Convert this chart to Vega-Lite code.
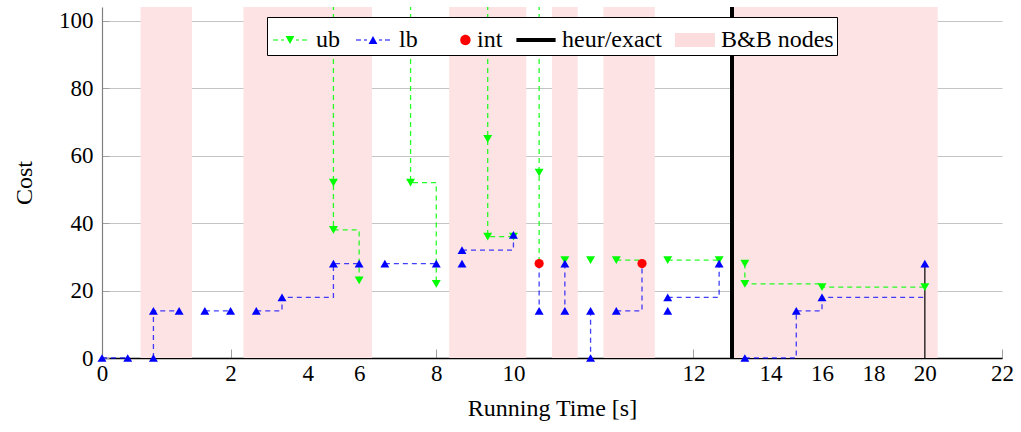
{
  "$schema": "https://vega.github.io/schema/vega-lite/v6.json",
  "width": 900,
  "height": 351,
  "autosize": {"type": "none"},
  "padding": {"left": 102, "top": 7, "right": 19, "bottom": 74},
  "background": "white",
  "config": {
    "view": {"stroke": null},
    "font": "Liberation Serif, Times New Roman, Times, serif",
    "axis": {
      "labelFont": "Liberation Serif, Times New Roman, Times, serif",
      "labelFontSize": 23,
      "labelColor": "black",
      "titleFont": "Liberation Serif, Times New Roman, Times, serif",
      "titleFontSize": 24,
      "titleFontWeight": "normal",
      "titleColor": "black"
    }
  },
  "encoding": {
    "x": {
      "type": "quantitative",
      "scale": {"domain": [0, 35], "nice": false, "zero": false},
      "axis": {
        "title": "Running Time [s]",
        "values": [0, 5, 8, 10, 13, 16, 23, 26, 28, 30, 32, 35],
        "labelExpr": "['0','2','4','6','8','10','12','14','16','18','20','22'][indexof([0,5,8,10,13,16,23,26,28,30,32,35], datum.value)]",
        "domainColor": "black",
        "domainWidth": 1.3,
        "tickColor": "#a0a0a0",
        "tickSize": -9,
        "tickWidth": 1,
        "labelPadding": 13,
        "labelFlush": false,
        "labelOverlap": false,
        "grid": false,
        "titlePadding": 11
      }
    },
    "y": {
      "type": "quantitative",
      "scale": {"domain": [0, 104.1], "nice": false},
      "axis": {
        "title": "Cost",
        "values": [0, 20, 40, 60, 80, 100],
        "domainColor": "#808080",
        "domainWidth": 1.2,
        "tickColor": "#a0a0a0",
        "tickSize": -7,
        "labelPadding": 16,
        "grid": true,
        "gridColor": "#c4c4c4",
        "gridWidth": 1,
        "titlePadding": 22
      }
    }
  },
  "layer": [
    {
      "data": {"values": [
        {"a": 1.5, "b": 3.5}, {"a": 5.5, "b": 10.5}, {"a": 13.5, "b": 16.5},
        {"a": 17.5, "b": 18.5}, {"a": 19.5, "b": 21.5}, {"a": 24.5, "b": 32.5}
      ]},
      "mark": {"type": "rect", "color": "#fde3e4"},
      "encoding": {"x": {"field": "a"}, "x2": {"field": "b"}}
    },
    {
      "data": {"values": [
        {"s": "A", "o": 1, "u": 9, "v": 110}, {"s": "A", "o": 2, "u": 9, "v": 52}, {"s": "A", "o": 3, "u": 9, "v": 38}, {"s": "A", "o": 4, "u": 10, "v": 38}, {"s": "A", "o": 5, "u": 10, "v": 23},
        {"s": "B", "o": 1, "u": 12, "v": 110}, {"s": "B", "o": 2, "u": 12, "v": 52}, {"s": "B", "o": 3, "u": 13, "v": 52}, {"s": "B", "o": 4, "u": 13, "v": 22},
        {"s": "C", "o": 1, "u": 15, "v": 110}, {"s": "C", "o": 2, "u": 15, "v": 65}, {"s": "C", "o": 3, "u": 15, "v": 36}, {"s": "C", "o": 4, "u": 16, "v": 36},
        {"s": "D", "o": 1, "u": 17, "v": 110}, {"s": "D", "o": 2, "u": 17, "v": 55}, {"s": "D", "o": 3, "u": 17, "v": 28},
        {"s": "E", "o": 1, "u": 20, "v": 29}, {"s": "E", "o": 2, "u": 21, "v": 29},
        {"s": "F", "o": 1, "u": 22, "v": 29}, {"s": "F", "o": 2, "u": 24, "v": 29},
        {"s": "G", "o": 1, "u": 25, "v": 28}, {"s": "G", "o": 2, "u": 25, "v": 22}, {"s": "G", "o": 3, "u": 28, "v": 22}, {"s": "G", "o": 4, "u": 28, "v": 21}, {"s": "G", "o": 5, "u": 32, "v": 21}
      ]},
      "mark": {"type": "line", "color": "#00ff00", "strokeWidth": 1.3, "strokeDash": [5, 4], "opacity": 0.85, "clip": true},
      "encoding": {"x": {"field": "u"}, "y": {"field": "v"}, "detail": {"field": "s"}, "order": {"field": "o"}}
    },
    {
      "data": {"values": [
        {"s": "1", "o": 1, "u": 0, "v": 0}, {"s": "1", "o": 2, "u": 1, "v": 0},
        {"s": "2", "o": 1, "u": 2, "v": 0}, {"s": "2", "o": 2, "u": 2, "v": 14}, {"s": "2", "o": 3, "u": 3, "v": 14},
        {"s": "3", "o": 1, "u": 4, "v": 14}, {"s": "3", "o": 2, "u": 5, "v": 14},
        {"s": "4", "o": 1, "u": 6, "v": 14}, {"s": "4", "o": 2, "u": 7, "v": 14}, {"s": "4", "o": 3, "u": 7, "v": 18}, {"s": "4", "o": 4, "u": 9, "v": 18}, {"s": "4", "o": 5, "u": 9, "v": 28}, {"s": "4", "o": 6, "u": 10, "v": 28},
        {"s": "5", "o": 1, "u": 11, "v": 28}, {"s": "5", "o": 2, "u": 13, "v": 28},
        {"s": "6", "o": 1, "u": 14, "v": 32}, {"s": "6", "o": 2, "u": 16, "v": 32}, {"s": "6", "o": 3, "u": 16, "v": 36.5},
        {"s": "7", "o": 1, "u": 17, "v": 28}, {"s": "7", "o": 2, "u": 17, "v": 14},
        {"s": "8", "o": 1, "u": 18, "v": 28}, {"s": "8", "o": 2, "u": 18, "v": 14},
        {"s": "9", "o": 1, "u": 19, "v": 14}, {"s": "9", "o": 2, "u": 19, "v": 0},
        {"s": "10", "o": 1, "u": 20, "v": 14}, {"s": "10", "o": 2, "u": 21, "v": 14}, {"s": "10", "o": 3, "u": 21, "v": 28},
        {"s": "11", "o": 1, "u": 22, "v": 18}, {"s": "11", "o": 2, "u": 24, "v": 18}, {"s": "11", "o": 3, "u": 24, "v": 28},
        {"s": "12", "o": 1, "u": 25, "v": 0}, {"s": "12", "o": 2, "u": 27, "v": 0}, {"s": "12", "o": 3, "u": 27, "v": 14}, {"s": "12", "o": 4, "u": 28, "v": 14}, {"s": "12", "o": 5, "u": 28, "v": 18}, {"s": "12", "o": 6, "u": 32, "v": 18}
      ]},
      "mark": {"type": "line", "color": "#0000ff", "strokeWidth": 1.3, "strokeDash": [5, 4], "opacity": 0.75},
      "encoding": {"x": {"field": "u"}, "y": {"field": "v"}, "detail": {"field": "s"}, "order": {"field": "o"}}
    },
    {
      "data": {"values": [{"u": 32, "v0": 0, "v1": 28}]},
      "mark": {"type": "rule", "color": "black", "strokeWidth": 1.2},
      "encoding": {"x": {"field": "u"}, "y": {"field": "v0"}, "y2": {"field": "v1"}}
    },
    {
      "data": {"values": [{"u": 24.5}]},
      "mark": {"type": "rule", "color": "black", "strokeWidth": 4},
      "encoding": {"x": {"field": "u"}}
    },
    {
      "data": {"values": [
        {"u": 9, "v": 52}, {"u": 9, "v": 38}, {"u": 10, "v": 23}, {"u": 12, "v": 52}, {"u": 13, "v": 22},
        {"u": 15, "v": 65}, {"u": 15, "v": 36}, {"u": 16, "v": 36}, {"u": 17, "v": 55}, {"u": 18, "v": 29},
        {"u": 19, "v": 29}, {"u": 20, "v": 29}, {"u": 22, "v": 29}, {"u": 24, "v": 29}, {"u": 25, "v": 28},
        {"u": 25, "v": 22}, {"u": 28, "v": 21}, {"u": 32, "v": 21}
      ]},
      "mark": {"type": "point", "shape": "triangle-down", "filled": true, "color": "#00ff00", "opacity": 1, "size": 80},
      "encoding": {"x": {"field": "u"}, "y": {"field": "v"}}
    },
    {
      "data": {"values": [
        {"u": 0, "v": 0}, {"u": 1, "v": 0}, {"u": 2, "v": 0}, {"u": 2, "v": 14}, {"u": 3, "v": 14},
        {"u": 4, "v": 14}, {"u": 5, "v": 14}, {"u": 6, "v": 14}, {"u": 7, "v": 18}, {"u": 9, "v": 28},
        {"u": 10, "v": 28}, {"u": 11, "v": 28}, {"u": 13, "v": 28}, {"u": 14, "v": 28}, {"u": 14, "v": 32},
        {"u": 16, "v": 36.5}, {"u": 17, "v": 14}, {"u": 18, "v": 28}, {"u": 18, "v": 14}, {"u": 19, "v": 14},
        {"u": 19, "v": 0}, {"u": 20, "v": 14}, {"u": 22, "v": 18}, {"u": 22, "v": 14}, {"u": 24, "v": 28},
        {"u": 25, "v": 0}, {"u": 27, "v": 14}, {"u": 28, "v": 18}, {"u": 32, "v": 28}
      ]},
      "mark": {"type": "point", "shape": "triangle-up", "filled": true, "color": "#0000ff", "opacity": 1, "size": 80, "clip": false},
      "encoding": {"x": {"field": "u"}, "y": {"field": "v"}}
    },
    {
      "data": {"values": [{"u": 17, "v": 28}, {"u": 21, "v": 28}]},
      "mark": {"type": "point", "shape": "circle", "filled": true, "color": "#ff0000", "opacity": 1, "size": 85},
      "encoding": {"x": {"field": "u"}, "y": {"field": "v"}}
    },
    {
      "data": {"values": [
        {"series": "ub"}, {"series": "lb"}, {"series": "int"}, {"series": "heur/exact"}, {"series": "B&B nodes"}
      ]},
      "mark": {"type": "point", "filled": true, "opacity": 0},
      "encoding": {
        "x": {"datum": 0},
        "y": {"datum": 0},
        "color": {
          "field": "series",
          "type": "nominal",
          "scale": {"domain": ["ub", "lb", "int", "heur/exact", "B&B nodes"], "range": ["#00ff00", "#0000ff", "#ff0000", "#000000", "#fcdcdd"]},
          "legend": {
            "title": null, "orient": "none", "legendX": 165, "legendY": 10, "offset": 0, "direction": "horizontal",
            "padding": 3, "strokeColor": "black", "fillColor": "white", "symbolSize": 1600,
            "symbolStrokeWidth": 0, "symbolOpacity": 1, "labelFont": "Liberation Serif, Times New Roman, Times, serif", "labelFontSize": 24,
            "labelColor": "black", "labelOffset": 6, "columnPadding": 13
          }
        },
        "shape": {
          "field": "series",
          "type": "nominal",
          "scale": {"domain": ["ub", "lb", "int", "heur/exact", "B&B nodes"], "range": [
            "M-0.85,-0.03H-0.6V0.03H-0.85Z M-0.45,-0.03H-0.3V0.03H-0.45Z M-0.22,-0.2H0.22L0,0.2Z M0.3,-0.03H0.45V0.03H0.3Z M0.6,-0.03H0.85V0.03H0.6Z",
            "M-0.85,-0.03H-0.6V0.03H-0.85Z M-0.45,-0.03H-0.3V0.03H-0.45Z M-0.22,0.2H0.22L0,-0.2Z M0.3,-0.03H0.45V0.03H0.3Z M0.6,-0.03H0.85V0.03H0.6Z",
            "M0.46,0A0.26,0.26 0 1,0 0.98,0A0.26,0.26 0 1,0 0.46,0Z",
            "M-0.98,-0.1H0.98V0.1H-0.98Z",
            "M-1,-0.35H1V0.35H-1Z"
          ]},
          "legend": {
            "title": null, "orient": "none", "legendX": 165, "legendY": 10, "offset": 0, "direction": "horizontal",
            "padding": 3, "strokeColor": "black", "fillColor": "white", "symbolSize": 1600,
            "symbolStrokeWidth": 0, "symbolOpacity": 1, "labelFont": "Liberation Serif, Times New Roman, Times, serif", "labelFontSize": 24,
            "labelColor": "black", "labelOffset": 6, "columnPadding": 13
          }
        }
      }
    }
  ]
}
